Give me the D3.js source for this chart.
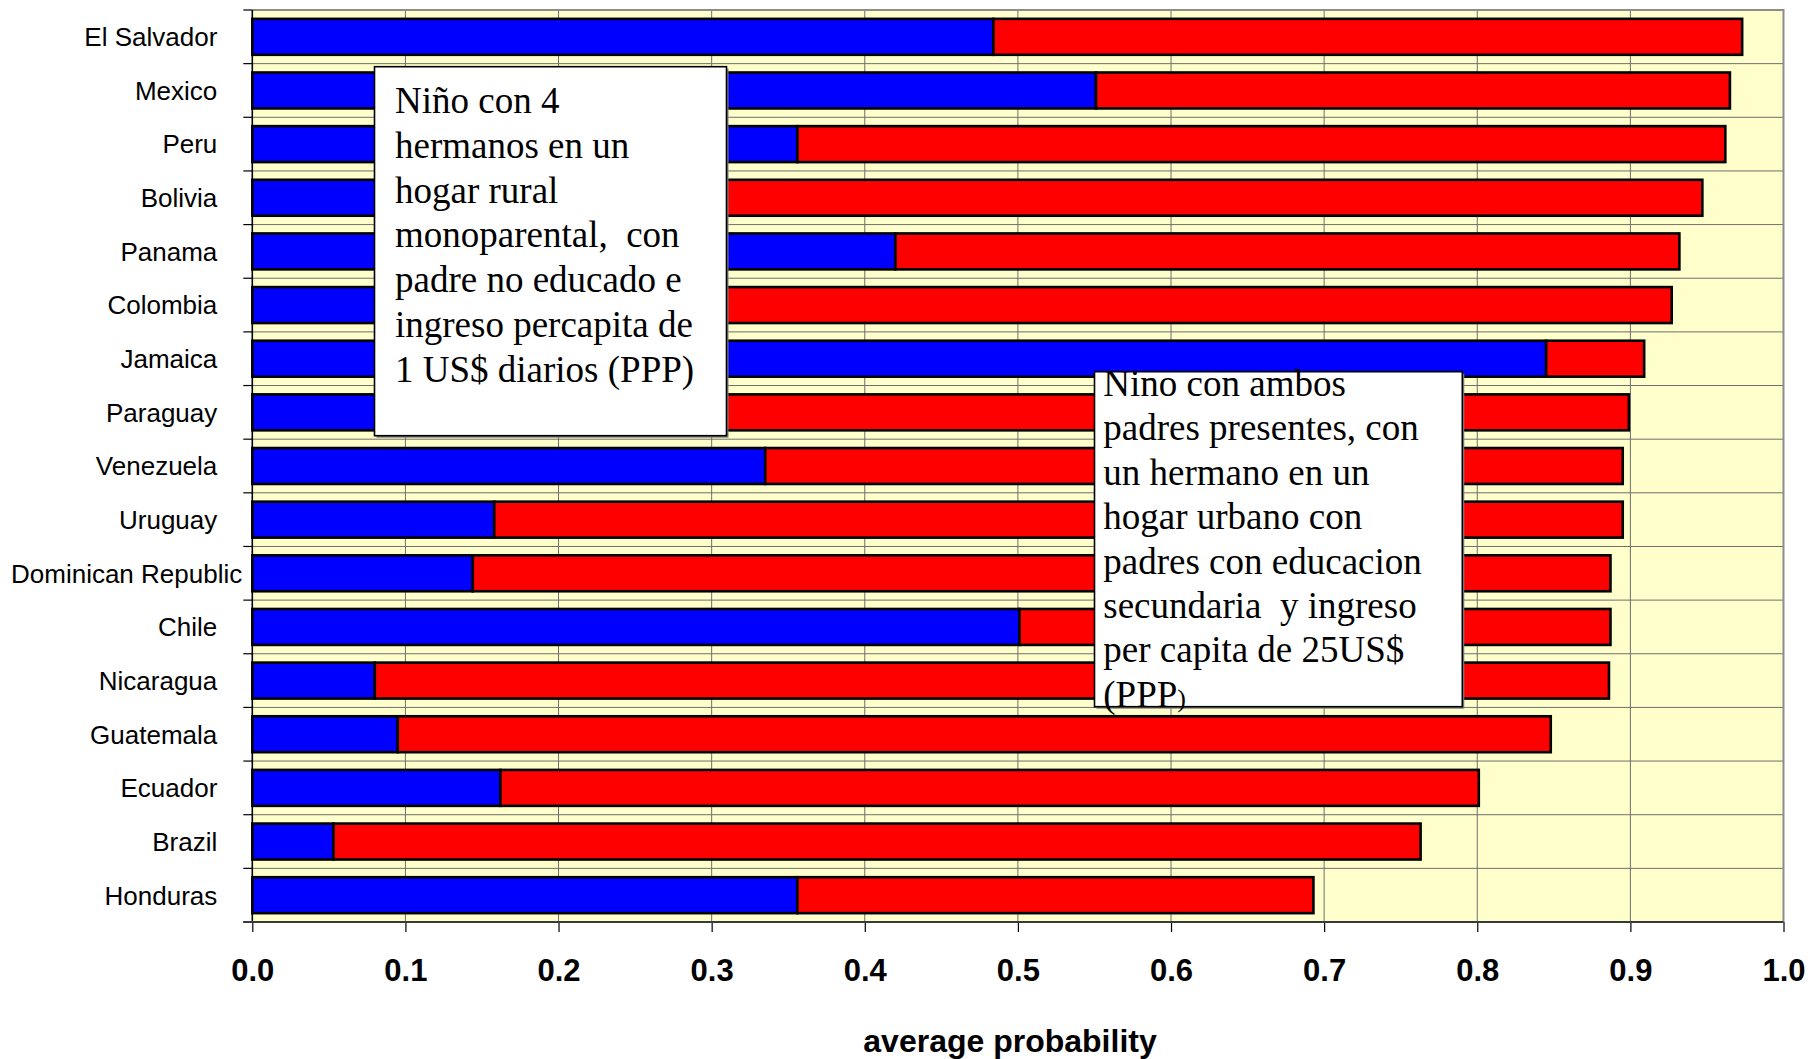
<!DOCTYPE html>
<html>
<head>
<meta charset="utf-8">
<script src="https://cdn.jsdelivr.net/npm/d3@7"></script>
<style>
  html, body { margin: 0; padding: 0; background: #ffffff; }
  svg { display: block; }
</style>
</head>
<body>
<svg id="chart" width="1808" height="1059"></svg>
<script>
// ---- data ----
const categories = ["El Salvador","Mexico","Peru","Bolivia","Panama","Colombia","Jamaica","Paraguay","Venezuela","Uruguay","Dominican Republic","Chile","Nicaragua","Guatemala","Ecuador","Brazil","Honduras"];
const blueSeries = [0.484,0.551,0.356,0.200,0.420,0.220,0.845,0.180,0.335,0.158,0.144,0.501,0.080,0.095,0.162,0.053,0.356];
const redSeries  = [0.489,0.414,0.606,0.747,0.512,0.707,0.064,0.719,0.560,0.737,0.743,0.386,0.806,0.753,0.639,0.710,0.337];
const xTicks = [0,0.1,0.2,0.3,0.4,0.5,0.6,0.7,0.8,0.9,1.0];
const xTitle = "average probability";
const note1 = ["Niño con 4","hermanos en un","hogar rural","monoparental,  con","padre no educado e","ingreso percapita de","1 US$ diarios (PPP)"];
const note2 = ["Nino con ambos","padres presentes, con","un hermano en un","hogar urbano con","padres con educacion","secundaria  y ingreso","per capita de 25US$","(PPP"];
const note2Tail = ")";

// ---- layout ----
const W = 1808, H = 1059;
const plot = {left: 252.3, right: 1783.5, top: 10, bottom: 922};
const svg = d3.select("#chart");

const x = d3.scaleLinear().domain([0, 1]).range([plot.left, plot.right]);
const pad = 0.33;
const y = d3.scaleBand().domain(categories).range([plot.top, plot.bottom]).paddingInner(pad).paddingOuter(pad / 2);

const rows = categories.map((c, i) => ({cat: c, blue: blueSeries[i], red: redSeries[i]}));
const stack = d3.stack().keys(["blue", "red"])(rows);
const colors = {blue: "#0000FF", red: "#FF0000"};

// plot background
svg.append("rect")
  .attr("x", plot.left).attr("y", plot.top)
  .attr("width", plot.right - plot.left).attr("height", plot.bottom - plot.top)
  .attr("fill", "#FFFFCC");

// vertical gridlines
svg.append("g").selectAll("line").data(xTicks.slice(1, -1)).join("line")
  .attr("x1", d => x(d)).attr("x2", d => x(d))
  .attr("y1", plot.top).attr("y2", plot.bottom)
  .attr("stroke", "#6e6e6e").attr("stroke-width", 1);

// horizontal gridlines at category boundaries
const step = y.step();
const boundaries = categories.map(c => y(c) - step * pad / 2).concat([plot.bottom]);
svg.append("g").selectAll("line").data(boundaries.slice(1, -1)).join("line")
  .attr("x1", plot.left).attr("x2", plot.right)
  .attr("y1", d => d).attr("y2", d => d)
  .attr("stroke", "#6e6e6e").attr("stroke-width", 1);

// top / right border
svg.append("path")
  .attr("d", `M${plot.left},${plot.top}H${plot.right}V${plot.bottom}`)
  .attr("fill", "none").attr("stroke", "#8c8c8c").attr("stroke-width", 2);

// bars
svg.append("g").selectAll("g").data(stack).join("g")
  .attr("fill", d => colors[d.key])
  .selectAll("rect").data(d => d).join("rect")
  .attr("x", d => x(d[0]))
  .attr("y", d => y(d.data.cat))
  .attr("width", d => x(d[1]) - x(d[0]))
  .attr("height", y.bandwidth())
  .attr("stroke", "#000").attr("stroke-width", 2.6);

// y axis line + ticks
const ya = svg.append("g");
ya.append("line").attr("x1", plot.left).attr("x2", plot.left)
  .attr("y1", plot.top).attr("y2", plot.bottom)
  .attr("stroke", "#000").attr("stroke-width", 1.6);
ya.selectAll("line.tk").data(boundaries).join("line").attr("class", "tk")
  .attr("x1", plot.left - 9).attr("x2", plot.left)
  .attr("y1", d => d).attr("y2", d => d)
  .attr("stroke", "#000").attr("stroke-width", 1.2);

// y labels
const labelRight = plot.left - 35;
ya.selectAll("text").data(categories).join("text")
  .attr("x", labelRight)
  .attr("y", d => y(d) + y.bandwidth() / 2)
  .attr("dy", "0.36em")
  .attr("text-anchor", "end")
  .style("font-family", "'Liberation Sans', Arial, sans-serif")
  .style("font-size", "26px")
  .attr("fill", "#000")
  .text(d => d)
  .each(function () {
    const w = this.getComputedTextLength();
    if (labelRight - w < 11) d3.select(this).attr("x", 11 + w);
  });

// x axis
const xa = svg.append("g").attr("transform", `translate(0,${plot.bottom})`)
  .call(d3.axisBottom(x).tickValues(xTicks).tickFormat(d3.format(".1f"))
        .tickSize(10).tickSizeOuter(0).tickPadding(27));
xa.select(".domain").remove();
xa.append("line").attr("x1", plot.left - 9).attr("x2", plot.right)
  .attr("y1", 0).attr("y2", 0).attr("stroke", "#3a3a3a").attr("stroke-width", 2);
xa.selectAll(".tick line").attr("stroke", "#000").attr("stroke-width", 1.2);
xa.selectAll(".tick text")
  .style("font-family", "'Liberation Sans', Arial, sans-serif")
  .style("font-size", "31px").style("font-weight", "bold").attr("fill", "#000");

// x title
svg.append("text")
  .attr("x", 1010).attr("y", 1052)
  .attr("text-anchor", "middle")
  .style("font-family", "'Liberation Sans', Arial, sans-serif")
  .style("font-size", "32px").style("font-weight", "bold")
  .text(xTitle);

// annotation boxes
function noteBox(bx, by, bw, bh, lines, tx, ty0, lh, tail) {
  const g = svg.append("g");
  g.append("rect").attr("x", bx + 2).attr("y", by + 2).attr("width", bw).attr("height", bh)
    .attr("fill", "#808080");
  g.append("rect").attr("x", bx).attr("y", by).attr("width", bw).attr("height", bh)
    .attr("fill", "#fff").attr("stroke", "#000").attr("stroke-width", 1.6);
  const t = g.append("text")
    .style("font-family", "'Liberation Serif', 'Times New Roman', serif")
    .style("font-size", "37px").attr("fill", "#000");
  lines.forEach((ln, i) => {
    t.append("tspan").attr("x", tx).attr("y", ty0 + i * lh)
      .style("white-space", "pre").attr("xml:space", "preserve").text(ln);
  });
  if (tail) {
    t.append("tspan").style("font-size", "26px").text(tail);
  }
}
noteBox(374.5, 66.7, 352, 369, note1, 395, 113.3, 44.7, null);
noteBox(1094.5, 371.7, 367.8, 335, note2, 1103.3, 396, 44.4, note2Tail);
</script>
</body>
</html>
